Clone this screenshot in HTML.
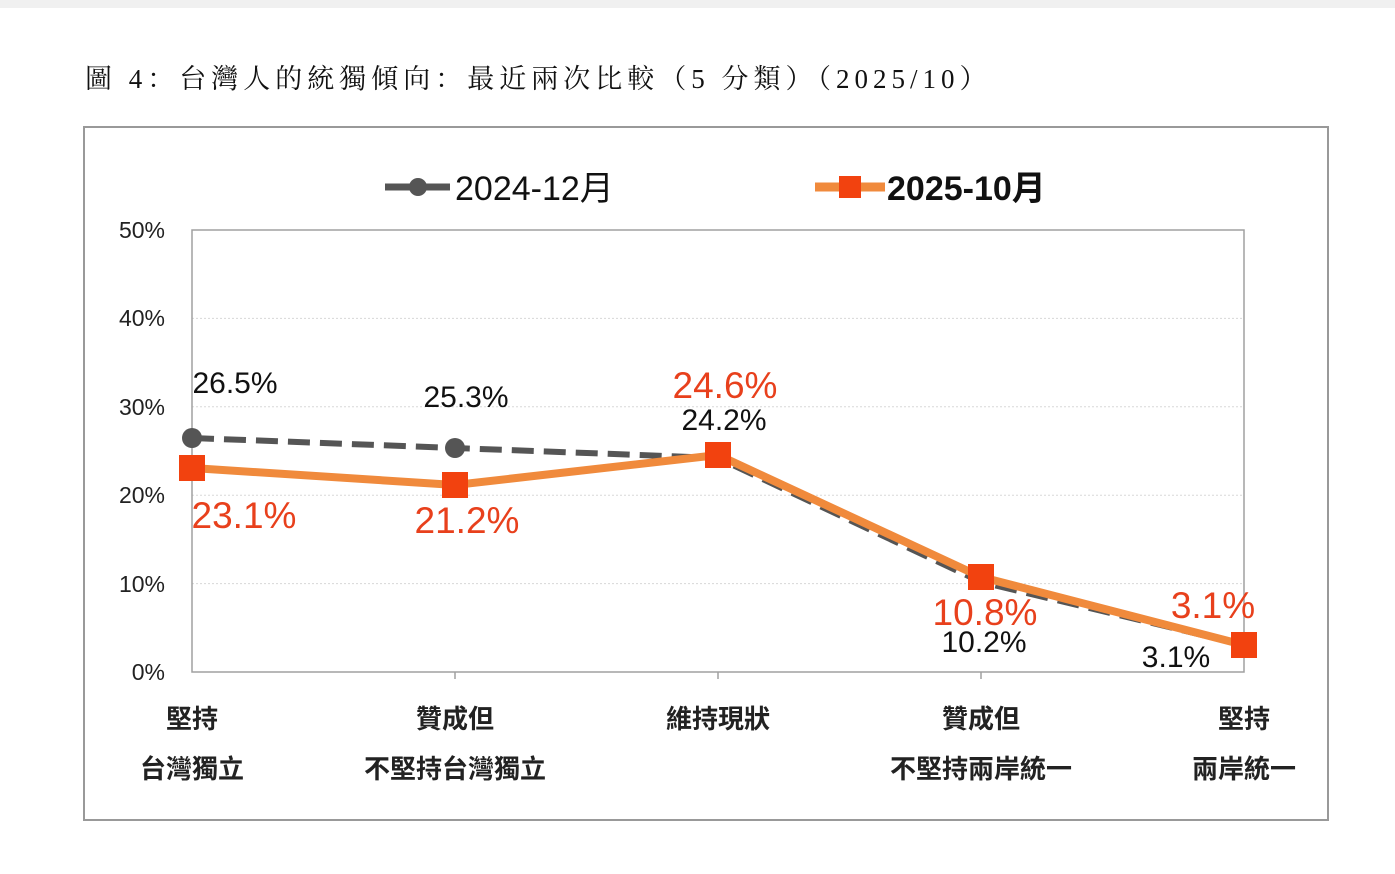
<!DOCTYPE html>
<html><head><meta charset="utf-8"><style>
body{margin:0;background:#fff;width:1395px;height:869px;overflow:hidden}
</style></head><body>
<svg width="1395" height="869" xmlns="http://www.w3.org/2000/svg">
<rect x="0" y="0" width="1395" height="8" fill="#f0f0f0"/>
<text x="85" y="88" font-family="'Liberation Serif','Noto Serif CJK SC',serif" font-size="27" letter-spacing="5" fill="#111">圖 4：台灣人的統獨傾向：最近兩次比較（5 分類）（2025/10）</text>
<rect x="84" y="127" width="1244" height="693" fill="none" stroke="#999" stroke-width="2"/>
<g stroke="#d8d8d8" stroke-width="1" stroke-dasharray="2,2">
<line x1="192" y1="318.4" x2="1244" y2="318.4"/>
<line x1="192" y1="406.8" x2="1244" y2="406.8"/>
<line x1="192" y1="495.2" x2="1244" y2="495.2"/>
<line x1="192" y1="583.6" x2="1244" y2="583.6"/>
</g>
<rect x="192" y="230" width="1052" height="442" fill="none" stroke="#a0a0a0" stroke-width="1.5"/>
<g stroke="#a0a0a0" stroke-width="1.5">
<line x1="455" y1="672" x2="455" y2="679"/><line x1="718" y1="672" x2="718" y2="679"/><line x1="981" y1="672" x2="981" y2="679"/>
</g>
<g font-family="'Liberation Sans',sans-serif" font-size="23" fill="#222" text-anchor="end">
<text x="165" y="238">50%</text><text x="165" y="326">40%</text><text x="165" y="415">30%</text><text x="165" y="503">20%</text><text x="165" y="592">10%</text><text x="165" y="680">0%</text>
</g>
<polyline points="192,438 455,448 718,458 981,582 1244,645" fill="none" stroke="#555" stroke-width="6" stroke-dasharray="22,10"/>
<g fill="#555"><circle cx="192" cy="438" r="10"/><circle cx="455" cy="448" r="10"/></g>
<polyline points="192,468 455,485 718,455 981,577 1244,645" fill="none" stroke="#f08a3c" stroke-width="8"/>
<g fill="#f2420f">
<rect x="179" y="455" width="26" height="26"/><rect x="442" y="472" width="26" height="26"/><rect x="705" y="442" width="26" height="26"/><rect x="968" y="564" width="26" height="26"/><rect x="1231" y="632" width="26" height="26"/>
</g>
<g font-family="'Liberation Sans',sans-serif" font-size="30" fill="#111" text-anchor="middle">
<text x="235" y="393">26.5%</text><text x="466" y="407">25.3%</text><text x="724" y="430">24.2%</text><text x="984" y="652">10.2%</text><text x="1176" y="667">3.1%</text>
</g>
<g font-family="'Liberation Sans',sans-serif" font-size="37" fill="#e8401c" text-anchor="middle">
<text x="244" y="528">23.1%</text><text x="467" y="533">21.2%</text><text x="725" y="398">24.6%</text><text x="985" y="625">10.8%</text><text x="1213" y="618">3.1%</text>
</g>
<line x1="385" y1="187" x2="450" y2="187" stroke="#555" stroke-width="7"/>
<circle cx="418" cy="187" r="9" fill="#555"/>
<text x="455" y="200" font-family="'Liberation Sans','Noto Sans CJK TC',sans-serif" font-size="34" fill="#111">2024-12月</text>
<line x1="815" y1="187" x2="885" y2="187" stroke="#f08a3c" stroke-width="9"/>
<rect x="839" y="176" width="22" height="22" fill="#f2420f"/>
<text x="887" y="200" font-family="'Liberation Sans','Noto Sans CJK TC',sans-serif" font-size="34" font-weight="bold" fill="#111">2025-10月</text>
<g font-family="'Liberation Sans','Noto Sans CJK TC',sans-serif" font-size="26" font-weight="bold" fill="#222" text-anchor="middle">
<text x="192" y="728">堅持</text><text x="192" y="778">台灣獨立</text>
<text x="455" y="728">贊成但</text><text x="455" y="778">不堅持台灣獨立</text>
<text x="718" y="728">維持現狀</text>
<text x="981" y="728">贊成但</text><text x="981" y="778">不堅持兩岸統一</text>
<text x="1244" y="728">堅持</text><text x="1244" y="778">兩岸統一</text>
</g>
</svg>
</body></html>
